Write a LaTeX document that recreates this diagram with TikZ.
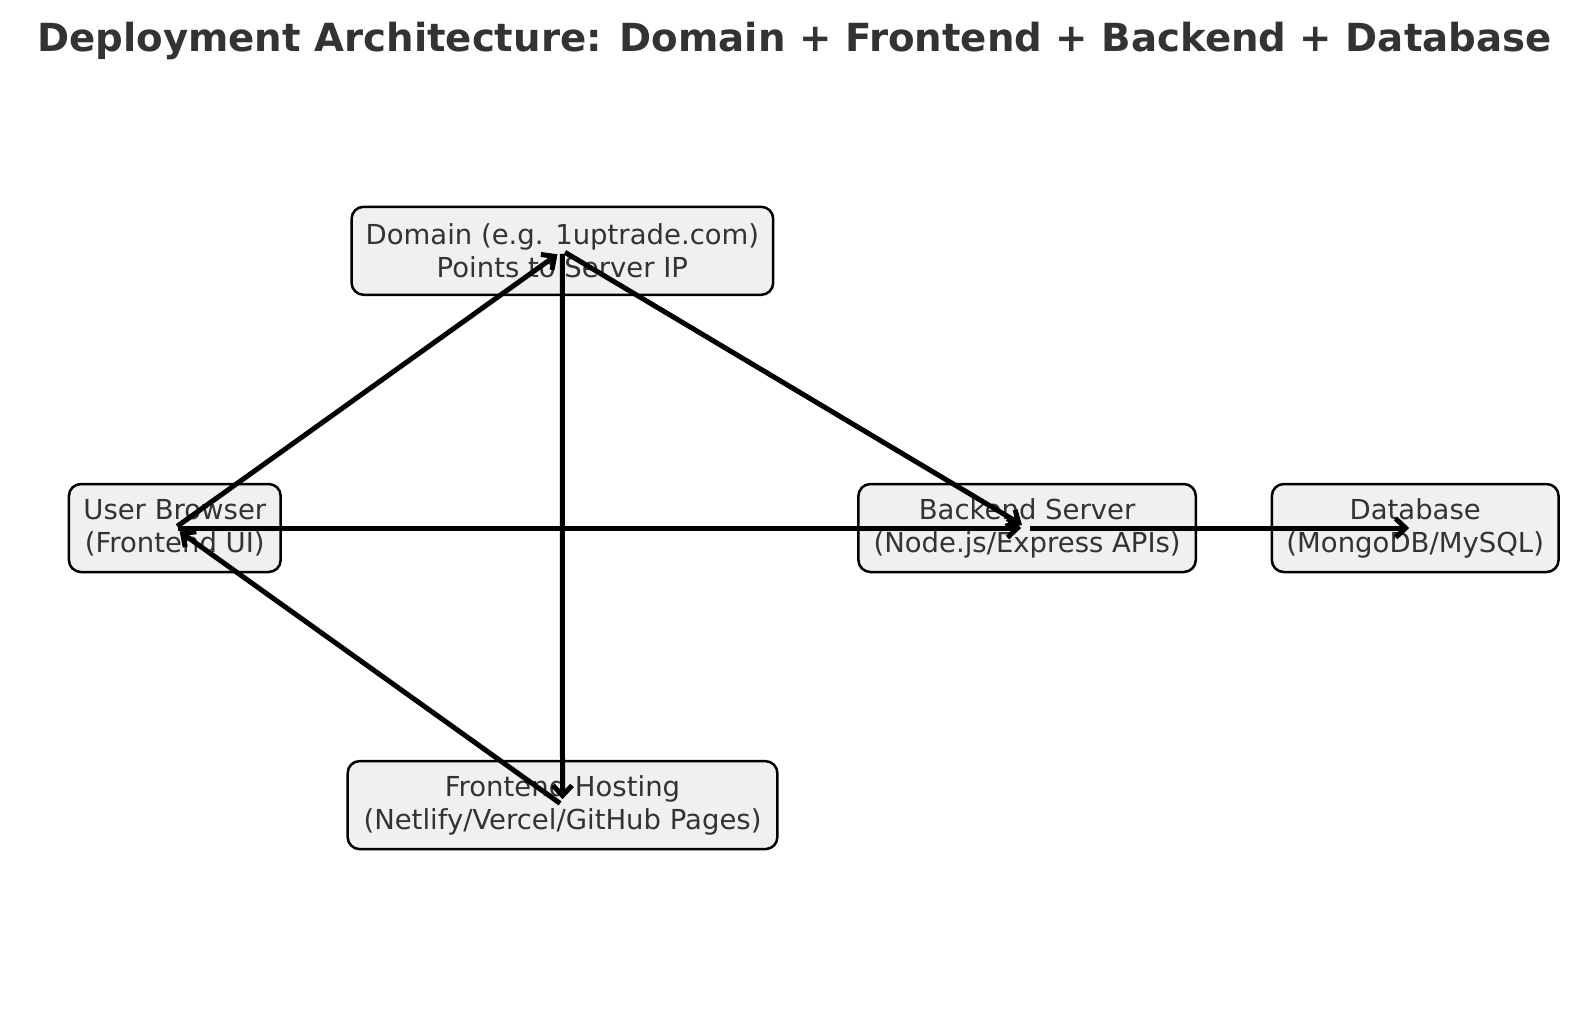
\documentclass[tikz,border=0pt]{standalone}
\usepackage{fontspec}
\setmainfont{DejaVu Sans}
\usetikzlibrary{arrows.meta,positioning}
\definecolor{boxFill}{HTML}{F0F0F0}
\definecolor{txtGray}{HTML}{333333}
\tikzset{
  box/.style={draw=black, line width=2.5pt, rounded corners=12pt, fill=boxFill,
              align=center, text=txtGray, font=\fontsize{27.5}{33}\selectfont,
              inner xsep=14pt, inner ysep=4pt, minimum height=88pt, minimum width=#1},
  box/.default=0pt,
  arr/.style={-{Straight Barb[length=10pt,width=19pt]}, black, line width=5pt,
              shorten <=3pt, shorten >=6pt},
}
\begin{document}
\begin{tikzpicture}[x=1pt,y=-1pt]
    \useasboundingbox (0,0) rectangle (1589,1010);
    \node[font=\fontsize{38.7}{46}\selectfont\bfseries, text=txtGray] (title) at (794.5,40.5)
      {Deployment Architecture: Domain + Frontend + Backend + Database};
    \node[box=421.6pt] (domain) at (562.4,250.8) {Domain (e.g. 1uptrade.com)\\Points to Server IP};
    \node[box=211.8pt] (browser) at (174.8,528) {User Browser\\(Frontend UI)};
    \node[box=337.4pt] (backend) at (1027.1,528) {Backend Server\\(Node.js/Express APIs)};
    \node[box=286.8pt] (db) at (1415.2,528) {Database\\(MongoDB/MySQL)};
    \node[box=429.7pt] (hosting) at (562.5,805.1) {Frontend Hosting\\(Netlify/Vercel/GitHub Pages)};
    \draw[arr] (browser.center) -- (domain.center);
    \draw[arr] (domain.center) -- (backend.center);
    \draw[arr] (domain.center) -- (hosting.center);
    \draw[arr] (hosting.center) -- (browser.center);
    \draw[arr] (browser.center) -- (backend.center);
    \draw[arr] (backend.center) -- (db.center);
\end{tikzpicture}
\end{document}
